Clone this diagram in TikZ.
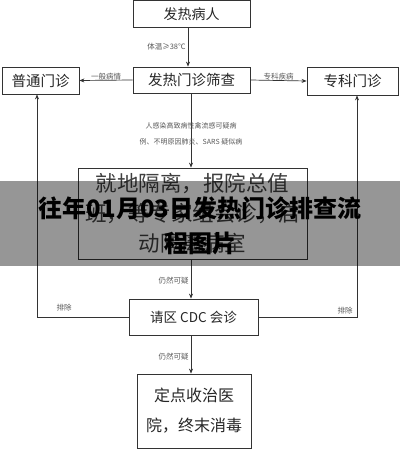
\documentclass[tikz,border=0pt]{standalone}
\usepackage{fontspec}
\setmainfont{Noto Sans CJK SC}
\newfontfamily\cjk{Noto Sans CJK SC}
\usetikzlibrary{arrows.meta}
\begin{document}
\begin{tikzpicture}[x=1pt,y=-1pt,
  box/.style={draw=black!80,line width=0.8pt,inner sep=0pt,align=center,font=\cjk,text=black!85},
  lbl/.style={font=\cjk\fontsize{7.5}{9}\selectfont,text=black!65,inner sep=1pt,align=center},
  conn/.style={draw=black!80,line width=0.7pt},
  arr/.style={conn,-{Stealth[length=5pt,width=4pt]}}]
\useasboundingbox (0,0) rectangle (400,449);
\fill[white] (0,0) rectangle (400,449);
% boxes
\node[box,minimum width=117pt,minimum height=27pt,font=\cjk\fontsize{14}{16}\selectfont] (top) at (191.5,13.8) {发热病人};
\node[box,minimum width=77pt,minimum height=27pt,font=\cjk\fontsize{14.5}{16}\selectfont] (gen) at (40.5,80.5) {普通门诊};
\node[box,minimum width=117pt,minimum height=26pt,font=\cjk\fontsize{14.5}{16}\selectfont] (scr) at (191.5,80) {发热门诊筛查};
\node[box,minimum width=91pt,minimum height=28pt,font=\cjk\fontsize{14.5}{16}\selectfont] (spe) at (352.5,81) {专科门诊};
\node[box,minimum width=229pt,minimum height=91pt,font=\cjk\fontsize{21.5}{30}\selectfont,text=black!75] (mid) at (192.5,213.5) {就地隔离，报院总值\\班，等专家组会诊，启\\动隔离病室};
\node[box,minimum width=129pt,minimum height=36pt,font=\cjk\fontsize{13.5}{16}\selectfont] (cdc) at (193.5,317) {请区 CDC 会诊};
\node[box,minimum width=114pt,minimum height=74pt,font=\cjk\fontsize{16}{30}\selectfont] (fin) at (194,411) {定点收治医\\院，终末消毒};
% connectors
\coordinate (t1) at (188,0);
\coordinate (t2) at (191,0);
\coordinate (lx) at (37,0);
\coordinate (rx) at (357,0);
\draw[arr] (top.south -| t1) -- (scr.north -| t1) node[lbl,pos=0.5,left=1pt] {体温≥38℃};
\draw[arr] (scr.west) -- (gen.east) node[lbl,pos=0.5,above=-1pt] {一般病情};
\draw[arr] (scr.east) -- (spe.west) node[lbl,pos=0.5,above=-1pt] {专科疾病};
\draw[arr] (scr.south -| t2) -- (mid.north -| t2);
\node[lbl,font=\cjk\fontsize{7}{16}\selectfont] (l1) at (191,134) {人感染高致病性禽流感可疑病\\例、不明原因肺炎、SARS 疑似病};
\draw[arr] (mid.south -| t2) -- (cdc.north -| t2) node[lbl,pos=0.55,left=1pt] {仍然可疑};
\draw[arr] (cdc.south -| t2) -- (fin.north -| t2) node[lbl,pos=0.55,left=1pt] {仍然可疑};
\draw[arr] (cdc.west) -- (cdc.west -| lx) -- (gen.south -| lx);
\draw[arr] (cdc.east) -- (cdc.east -| rx) -- (spe.south -| rx);
\node[lbl] (p1) at (64,308) {排除};
\node[lbl] (p2) at (345,311) {排除};
% overlay band
\fill[black,opacity=0.41] (0,181) rectangle (400,266);
\node[font=\cjk\bfseries\fontsize{24}{35}\selectfont,text=black,align=center,inner sep=0pt] (title) at (200,226) {往年01月03日发热门诊排查流\\程图片};
\end{tikzpicture}
\end{document}
